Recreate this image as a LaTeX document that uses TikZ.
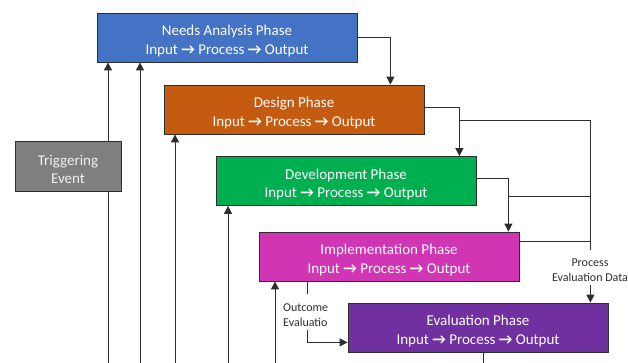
\documentclass[tikz,border=0pt]{standalone}
\usepackage{fontspec}
\setmainfont{Carlito}
\usetikzlibrary{arrows.meta,calc}
\definecolor{cblue}{HTML}{4472C4}
\definecolor{corange}{HTML}{C55A11}
\definecolor{cgreen}{HTML}{00B050}
\definecolor{cmag}{HTML}{D035B4}
\definecolor{cpurple}{HTML}{7030A0}
\definecolor{cgray}{HTML}{7F7F7F}
\definecolor{cline}{HTML}{2E2E2E}
\newcommand{\ar}{ \textbf{→} }
\newcommand{\tstrut}{\rule{0pt}{17pt}}
\begin{document}
\begin{tikzpicture}[x=1pt,y=-1pt,
  phase/.style={draw=cline,line width=0.8pt,minimum width=260pt,minimum height=49pt,inner sep=0pt,
    text=white,align=center,font=\fontsize{15}{18.5}\selectfont},
  conn/.style={draw=cline,line width=1pt},
  arr/.style={conn,-{Triangle[length=8pt,width=8pt]}},
  lbl/.style={text=cline,font=\fontsize{12}{15}\selectfont,inner sep=0pt}]
\useasboundingbox (0,0) rectangle (628,363);
\node[phase,fill=cblue] (needs) at (227,37.5) {\tstrut Needs Analysis Phase\\Input\ar Process\ar Output};
\node[phase,fill=corange] (design) at (294,109.5) {\tstrut Design Phase\\Input\ar Process\ar Output};
\node[phase,fill=cgreen] (dev) at (346,181) {\tstrut Development Phase\\Input\ar Process\ar Output};
\node[phase,fill=cmag] (impl) at (389,256.5) {\tstrut Implementation Phase\\Input\ar Process\ar Output};
\node[phase,fill=cpurple] (eval) at (478,327.5) {\tstrut Evaluation Phase\\Input\ar Process\ar Output};
\node[phase,fill=cgray,minimum width=106pt,minimum height=50pt,text=white!88!gray] (trig) at (68,166) {\tstrut Triggering\\Event};
% bottom coordinates of the vertical lines
\coordinate (b1) at (108,363);
\coordinate (b2) at (140,363);
\coordinate (b3) at (175,363);
\coordinate (b4) at (228,363);
\coordinate (b5) at (275,363);
\coordinate (b6) at (483,363);
% left feeds
\draw[arr] (trig.north -| b1) -- (needs.south -| b1);
\draw[conn] (trig.south -| b1) -- (b1);
\draw[arr] (b2) -- (needs.south -| b2);
\draw[arr] (b3) -- (design.south -| b3);
\draw[arr] (b4) -- (dev.south -| b4);
\draw[arr] (b5) -- (impl.south -| b5);
\draw[conn] (eval.south -| b6) -- (b6);
% cascade
\coordinate (c1) at ($(design.north east)+(-34,0)$);
\coordinate (c2) at ($(dev.north east)+(-17,0)$);
\coordinate (c3) at ($(impl.north east)+(-11,0)$);
\coordinate (d1) at ($(needs.north east)+(0,25)$);
\coordinate (d2) at ($(design.north east)+(0,23)$);
\coordinate (d3) at ($(dev.north east)+(0,22.5)$);
\draw[arr] (d1) -| (c1);
\draw[arr] (d2) -| (c2);
\draw[arr] (d3) -| (c3);
% process evaluation data
\coordinate (pv) at ($(eval.north east)+(-18,0)$);
\coordinate (pt) at (590,121);
\coordinate (pb) at (590,250);
\coordinate (ph) at (590,197);
\coordinate (ie) at ($(impl.north east)+(0,10)$);
\node[lbl,align=center] (ped) at (590,270.5) {Process\\Evaluation Data};
\draw[conn] (c2 |- pt) -- (pt) -- (pb);
\draw[conn] (c3 |- ph) -- (ph);
\draw[conn] (ie) -- (ie -| pt);
\draw[arr] ($(ped.south -| pv)+(0,3)$) -- (pv);
% outcome evaluation
\coordinate (oc) at (307.5,294);
\coordinate (ew) at ($(eval.south west)+(0,-10)$);
\node[lbl,align=left,anchor=west] (oed) at (283,315) {Outcome\\Evaluatio};
\draw[conn] (impl.south -| oc) -- (oc);
\draw[arr] ($(oed.south -| oc)+(0,3)$) |- (ew);
\end{tikzpicture}
\end{document}
